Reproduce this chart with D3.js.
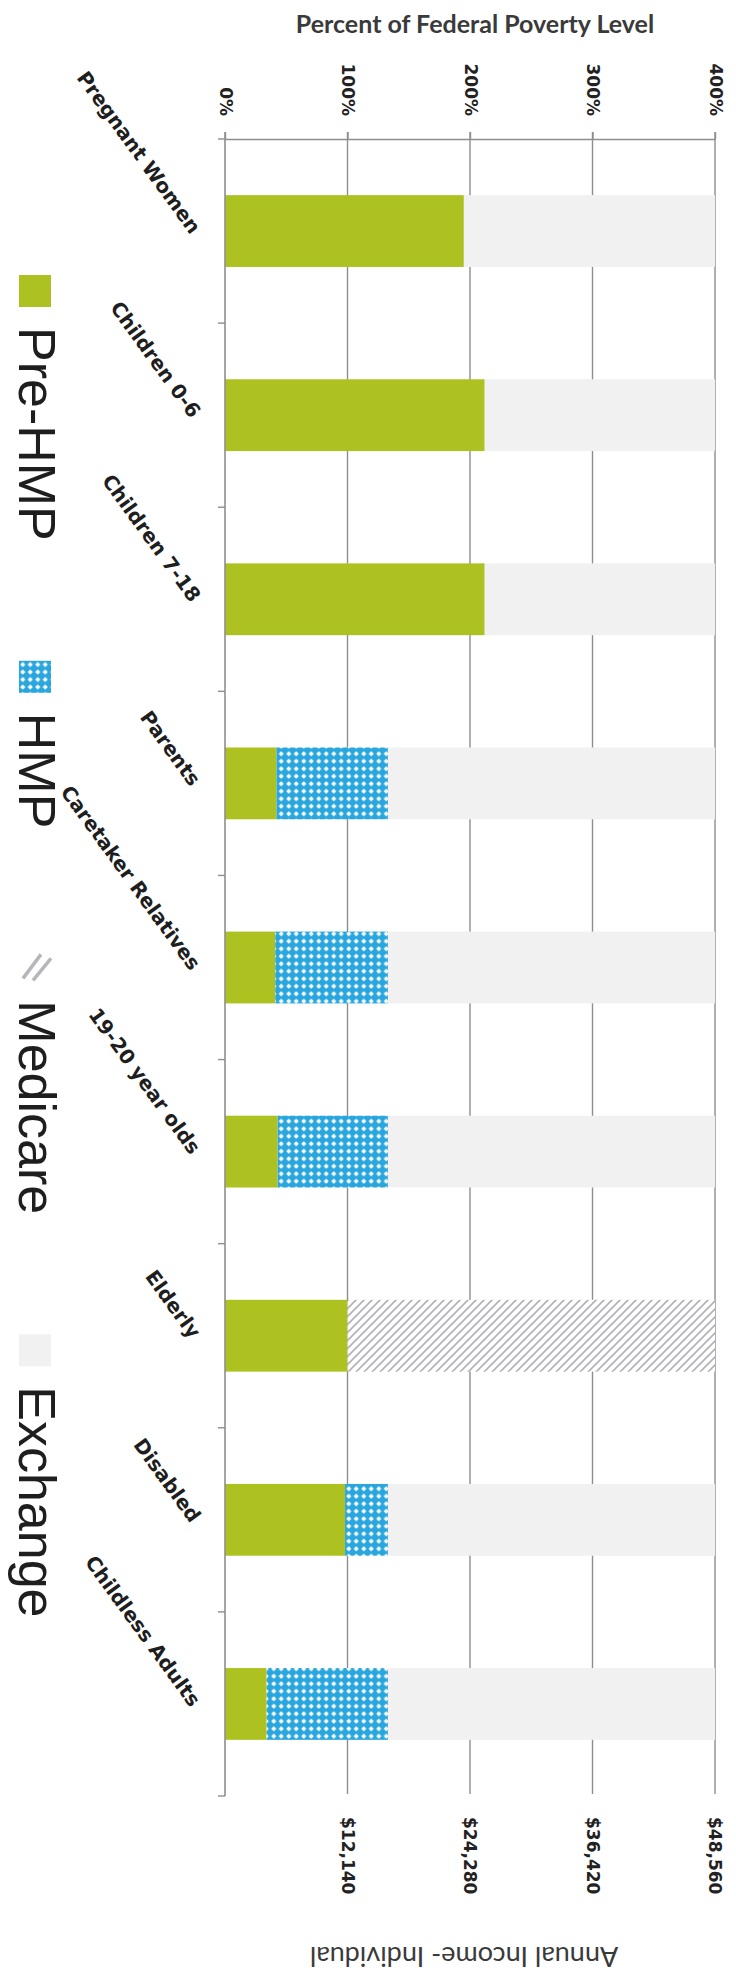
<!DOCTYPE html>
<html><head><meta charset="utf-8">
<script src="https://cdn.jsdelivr.net/npm/d3@7"></script>
<style>html,body{margin:0;padding:0;background:#fff;} svg{display:block;}</style>
</head><body>
<svg id="chart" width="736" height="1978"></svg>
<script>
// ---- data ----
const categories = ["Pregnant Women","Children 0-6","Children 7-18","Parents","Caretaker Relatives","19-20 year olds","Elderly","Disabled","Childless Adults"];
const preHMP   = [195, 212, 212, 42, 41, 43, 100, 98, 34];
const hmp      = [0, 0, 0, 91, 92, 90, 0, 35, 99];
const medicare = [0, 0, 0, 0, 0, 0, 300, 0, 0];
const exchange = [205, 188, 188, 267, 267, 267, 0, 267, 267];
const seriesNames = ["Pre-HMP","HMP","Medicare","Exchange"];
const fplTicks = [0, 100, 200, 300, 400];
const fplTickLabels = ["0%","100%","200%","300%","400%"];
const incomeTicks = [100, 200, 300, 400];
const incomeTickLabels = ["$12,140","$24,280","$36,420","$48,560"];
const topTitle = "Percent of Federal Poverty Level";
const bottomTitle = "Annual Income- Individual";

// ---- setup ----
const svg = d3.select("#chart");
const rows = categories.map((c, i) => ({category: c, "Pre-HMP": preHMP[i], "HMP": hmp[i], "Medicare": medicare[i], "Exchange": exchange[i]}));
const stacked = d3.stack().keys(seriesNames)(rows);

const x = d3.scaleLinear().domain([0, 400]).range([225, 715]);
const y = d3.scaleBand().domain(categories).range([139, 1796]).paddingInner(0.61).paddingOuter(0.305);

// patterns
const defs = svg.append("defs");
const pHmp = defs.append("pattern").attr("id", "pHmp").attr("patternUnits", "userSpaceOnUse")
  .attr("width", 7.5).attr("height", 7.5);
pHmp.append("rect").attr("width", 7.5).attr("height", 7.5).attr("fill", "#2aa6df");
pHmp.append("path").attr("d", "M3.75,1.2 L6.3,3.75 L3.75,6.3 L1.2,3.75Z").attr("fill", "#ffffff");

const pMed = defs.append("pattern").attr("id", "pMed").attr("patternUnits", "userSpaceOnUse")
  .attr("width", 8).attr("height", 8);
pMed.append("rect").attr("width", 8).attr("height", 8).attr("fill", "#ffffff");
pMed.append("path").attr("d", "M-2,2 L2,-2 M0,8 L8,0 M6,10 L10,6")
  .attr("stroke", "#b0b1b8").attr("stroke-width", 1.6);

const fills = {"Pre-HMP": "#adc221", "HMP": "url(#pHmp)", "Medicare": "url(#pMed)", "Exchange": "#f1f1f1"};

// gridlines
const gridBottom = 1794;
svg.append("g").selectAll("line").data(fplTicks.slice(1)).join("line")
  .attr("x1", d => x(d)).attr("x2", d => x(d))
  .attr("y1", y.range()[0] - 7).attr("y2", gridBottom)
  .attr("stroke", "#8e8e8e").attr("stroke-width", 1.4);

// bars
svg.append("g").selectAll("g").data(stacked).join("g")
  .attr("fill", d => fills[d.key])
  .selectAll("rect").data(d => d.filter(s => s[1] - s[0] > 0)).join("rect")
  .attr("x", d => x(d[0])).attr("width", d => x(d[1]) - x(d[0]))
  .attr("y", d => y(d.data.category)).attr("height", y.bandwidth());

// top axis
const topAxis = svg.append("g").attr("transform", `translate(0,${y.range()[0]})`)
  .call(d3.axisTop(x).tickValues(fplTicks).tickSize(7).tickSizeOuter(0).tickFormat((d, i) => fplTickLabels[i]));
topAxis.select(".domain").attr("stroke", "#8e8e8e").attr("stroke-width", 1.6);
topAxis.selectAll(".tick line").attr("stroke", "#8e8e8e").attr("stroke-width", 1.4);
topAxis.selectAll(".tick text")
  .attr("transform", "translate(0,-23) rotate(90)")
  .attr("x", 0).attr("y", 0).attr("dy", "0.35em")
  .attr("text-anchor", "end")
  .attr("font-family", "DejaVu Sans").attr("font-weight", "bold").attr("font-size", 17).attr("fill", "#222");

// left category axis
const step = y.step();
const boundaries = categories.map(c => y(c) - step * y.paddingInner() / 2).concat([y(categories[categories.length - 1]) + y.bandwidth() + step * y.paddingInner() / 2]);
const leftAxis = svg.append("g");
leftAxis.append("line").attr("x1", x(0)).attr("x2", x(0))
  .attr("y1", y.range()[0] - 7).attr("y2", boundaries[boundaries.length - 1])
  .attr("stroke", "#8e8e8e").attr("stroke-width", 1.6);
leftAxis.selectAll("line.t").data(boundaries).join("line").attr("class", "t")
  .attr("x1", x(0) - 7).attr("x2", x(0)).attr("y1", d => d).attr("y2", d => d)
  .attr("stroke", "#8e8e8e").attr("stroke-width", 1.4);

// category labels
svg.append("g").selectAll("text").data(categories).join("text")
  .attr("transform", d => `translate(${x(0) - 29},${y(d) + y.bandwidth() / 2}) rotate(54)`)
  .attr("text-anchor", "end").attr("dy", "0.35em")
  .attr("font-family", "DejaVu Sans").attr("font-weight", "bold").attr("font-size", 20).attr("fill", "#1e1e1e")
  .text(d => d);

// bottom income labels
svg.append("g").selectAll("text").data(incomeTicks).join("text")
  .attr("transform", d => `translate(${x(d)},1817) rotate(90)`)
  .attr("text-anchor", "start").attr("dy", "0.35em")
  .attr("font-family", "DejaVu Sans").attr("font-weight", "bold").attr("font-size", 17).attr("fill", "#222")
  .text((d, i) => incomeTickLabels[i]);

// titles
svg.append("text").attr("x", 475).attr("y", 33).attr("text-anchor", "middle")
  .attr("font-family", "Lato").attr("font-weight", "bold").attr("font-size", 25).attr("fill", "#3a3a3a")
  .text(topTitle);
svg.append("text").attr("transform", "translate(464,1947) rotate(180)").attr("text-anchor", "middle")
  .attr("font-family", "Lato").attr("font-size", 27).attr("fill", "#3a3a3a")
  .text(bottomTitle);

// legend (rotated)
const legend = svg.append("g");
let pos = 275;
seriesNames.forEach((name, i) => {
  const g = legend.append("g");
  const sw = g.append("g").attr("transform", `translate(19,${pos})`);
  if (name === "Medicare") {
    sw.append("path").attr("d", "M4,30 L22,6 M14,32 L32,10")
      .attr("stroke", "#a9a9b0").attr("stroke-width", 3.5).attr("opacity", 0.85);
  } else {
    sw.append("rect").attr("width", 32).attr("height", 32).attr("fill", fills[name]);
  }
  const t = g.append("text").attr("transform", `translate(19,${pos + 52}) rotate(90)`)
    .attr("font-family", "Liberation Sans").attr("font-size", 52).attr("fill", "#1e1e1e")
    .text(name);
  const len = t.node().getComputedTextLength();
  pos = pos + 52 + len + 120;
});
</script>
</body></html>
